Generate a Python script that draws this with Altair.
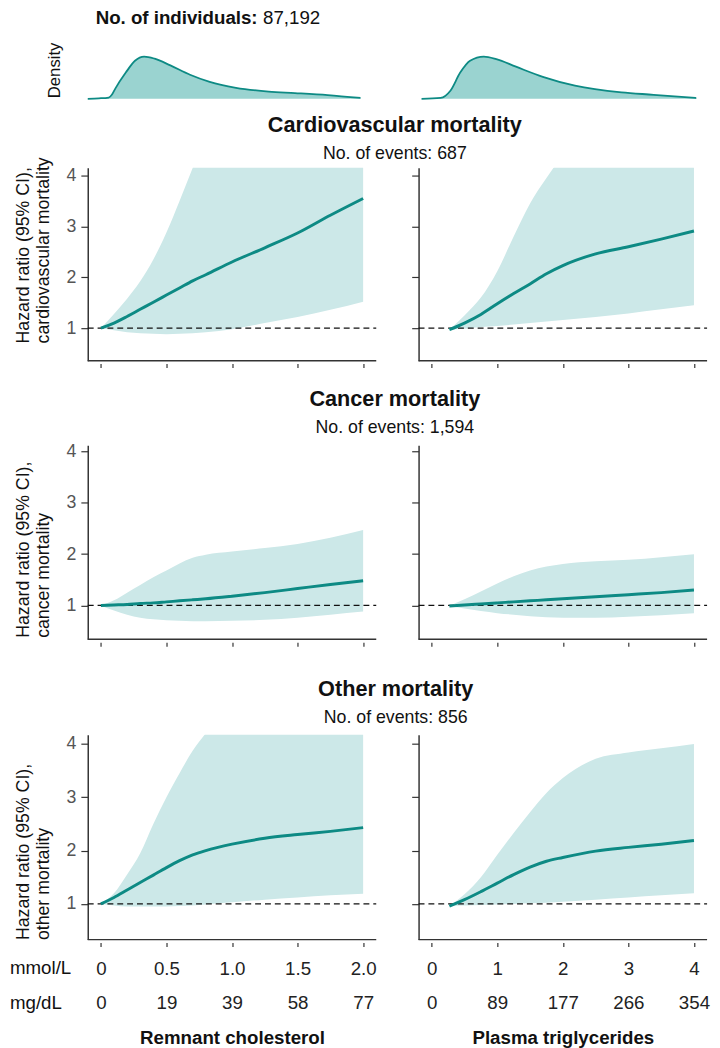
import altair as alt
import pandas as pd

FONT = "Liberation Sans, Arial, Helvetica, sans-serif"
TEAL = "#0d8a84"
BAND = "#cce8e8"
DFILL = "#9ad3d0"
AXC = "#333333"
W = 293

# ---------------- data ----------------
# x grids (mmol/L)
x_rc = [0, 0.1, 0.2, 0.3, 0.4, 0.5, 0.6, 0.7, 0.8, 1.0, 1.25, 1.5, 1.75, 2.0]
x_tg = [0.27, 0.5, 0.75, 1.0, 1.25, 1.5, 1.75, 2.0, 2.5, 3.0, 3.5, 4.0]

# Cardiovascular mortality
cv_rc_hr = [1.0, 1.1, 1.23, 1.37, 1.51, 1.65, 1.79, 1.93, 2.05, 2.3, 2.58, 2.87, 3.22, 3.55]
cv_rc_lo = [1.0, 0.96, 0.92, 0.9, 0.89, 0.88, 0.89, 0.9, 0.92, 0.98, 1.1, 1.22, 1.36, 1.52]
cv_rc_hi = [1.0, 1.28, 1.58, 1.92, 2.35, 2.88, 3.5, 4.15, 4.8, 5.5, 6.0, 6.5, 7.0, 7.5]
cv_tg_hr = [0.97, 1.1, 1.27, 1.48, 1.68, 1.87, 2.07, 2.23, 2.46, 2.6, 2.75, 2.91]
cv_tg_lo = [0.97, 0.99, 1.02, 1.04, 1.07, 1.1, 1.13, 1.16, 1.22, 1.29, 1.37, 1.45]
cv_tg_hi = [0.97, 1.25, 1.6, 2.12, 2.8, 3.45, 3.95, 4.4, 5.0, 5.5, 6.0, 6.5]

# Cancer mortality
ca_rc_hr = [1.0, 1.01, 1.02, 1.04, 1.05, 1.07, 1.09, 1.11, 1.13, 1.18, 1.25, 1.33, 1.41, 1.48]
ca_rc_lo = [1.0, 0.9, 0.82, 0.76, 0.73, 0.71, 0.7, 0.69, 0.69, 0.7, 0.72, 0.76, 0.82, 0.88]
ca_rc_hi = [1.0, 1.1, 1.25, 1.4, 1.55, 1.68, 1.82, 1.93, 1.99, 2.05, 2.12, 2.2, 2.32, 2.47]
ca_tg_hr = [0.99, 1.01, 1.03, 1.05, 1.07, 1.09, 1.11, 1.13, 1.17, 1.21, 1.25, 1.3]
ca_tg_lo = [0.99, 0.94, 0.89, 0.85, 0.82, 0.79, 0.77, 0.76, 0.76, 0.78, 0.81, 0.85]
ca_tg_hi = [0.99, 1.12, 1.27, 1.43, 1.57, 1.68, 1.76, 1.81, 1.86, 1.89, 1.94, 2.0]

# Other mortality
ot_rc_hr = [1.0, 1.12, 1.26, 1.4, 1.54, 1.68, 1.81, 1.92, 2.0, 2.12, 2.23, 2.3, 2.36, 2.43]
ot_rc_lo = [1.0, 0.97, 0.95, 0.95, 0.95, 0.95, 0.96, 0.97, 0.99, 1.03, 1.08, 1.12, 1.16, 1.19]
ot_rc_hi = [1.0, 1.2, 1.55, 1.95, 2.5, 3.0, 3.45, 3.87, 4.2, 4.8, 5.3, 5.7, 6.0, 6.3]
ot_tg_hr = [0.96, 1.08, 1.23, 1.39, 1.55, 1.69, 1.8, 1.87, 1.99, 2.06, 2.12, 2.19]
ot_tg_lo = [0.96, 0.97, 0.98, 0.99, 1.0, 1.01, 1.02, 1.04, 1.08, 1.12, 1.16, 1.2]
ot_tg_hi = [0.96, 1.18, 1.5, 1.92, 2.33, 2.72, 3.08, 3.36, 3.72, 3.84, 3.92, 4.0]

# Density curves (relative height)
dens_rc_x = [-0.1, -0.015, 0.06, 0.085, 0.11, 0.19, 0.26, 0.33, 0.41, 0.53, 0.68, 0.83, 1.03, 1.28, 1.48, 1.73, 1.98]
dens_rc_y = [0, 0.01, 0.03, 0.1, 0.24, 0.62, 0.9, 1.0, 0.95, 0.79, 0.57, 0.4, 0.26, 0.17, 0.136, 0.088, 0.02]
dens_tg_x = [-0.2, 0.09, 0.24, 0.39, 0.54, 0.75, 0.94, 1.24, 1.65, 2.14, 2.85, 3.34, 3.99]
dens_tg_y = [0, 0.02, 0.19, 0.62, 0.9, 1.0, 0.94, 0.76, 0.52, 0.31, 0.15, 0.095, 0.017]

# Tick labels
rc_ticks = [0, 0.5, 1.0, 1.5, 2.0]
rc_mmol = ["0", "0.5", "1.0", "1.5", "2.0"]
rc_mgdl = ["0", "19", "39", "58", "77"]
tg_ticks = [0, 1, 2, 3, 4]
tg_mmol = ["0", "1", "2", "3", "4"]
tg_mgdl = ["0", "89", "177", "266", "354"]
unit_labels = ["mmol/L", "mg/dL"]

XL = [-0.1, 2.1]
XR = [-0.2, 4.2]
LH = 35
LP = 13


def label_expr(ticks, l1, l2):
    parts = [f"abs(datum.value - {t}) < 1e-6 ? ['{a}', '{b}']" for t, a, b in zip(ticks, l1, l2)]
    return " : ".join(parts) + " : ''"


def hr_panel(xs, hr, lo, hi, xdom, ydom, height, ticks, side, bottom=False,
             ytitle=None, ytitle_y=0, xtitle=None, expr=None, gext=0):
    df = pd.DataFrame({"x": xs, "hr": hr, "lo": lo, "hi": hi})
    xsc = alt.Scale(domain=xdom, nice=False, zero=False)
    ysc = alt.Scale(domain=ydom, nice=False, zero=False)
    if bottom:
        xax = alt.Axis(values=ticks, domain=False, offset=3, tickSize=4, tickColor=AXC, tickWidth=1.2,
                       labelExpr=expr, labelFontSize=19, labelColor="#222", labelFont=FONT,
                       labelPadding=LP, labelLineHeight=LH, labelFlush=False, labelOverlap=False,
                       labelAngle=0, title=xtitle, titleFont=FONT, titleFontSize=19,
                       titleFontWeight="bold", titleColor="#111", titlePadding=17, grid=False)
    else:
        xax = alt.Axis(values=ticks, domain=False, offset=3, tickSize=4, tickColor=AXC, tickWidth=1.2,
                       labels=False, title=None, minExtent=gext, grid=False)
    if side == "left":
        yax = alt.Axis(values=[1, 2, 3, 4], domainColor=AXC, domainWidth=1.5, tickColor=AXC,
                       tickWidth=1.2, tickSize=7, labelFontSize=18, labelColor="#555", labelFont=FONT,
                       labelPadding=5, title=ytitle, titleFont=FONT, titleFontSize=18,
                       titleFontWeight="normal", titleColor="#111", titleAngle=270, titleAlign="left",
                       titleBaseline="bottom", titleX=-56, titleY=ytitle_y, titleLineHeight=20,
                       minExtent=80, grid=False)
    else:
        yax = alt.Axis(values=[1, 2, 3, 4], domainColor=AXC, domainWidth=1.5, tickColor=AXC,
                       tickWidth=1.2, tickSize=7, labels=False, title=None, minExtent=7, grid=False)

    def X(f):
        return alt.X(f, scale=xsc, axis=xax)

    def Y(f):
        return alt.Y(f, scale=ysc, axis=yax)

    base = alt.Chart(df)
    band = base.mark_area(color=BAND, clip=True, interpolate="monotone").encode(
        x=X("x:Q"), y=Y("lo:Q"), y2="hi:Q")
    refdf = pd.DataFrame({"x0": [xdom[0]], "x1": [xdom[1]], "y": [1.0]})
    ref = alt.Chart(refdf).mark_rule(color="#111", strokeDash=[6, 4], strokeWidth=1.3).encode(
        x=X("x0:Q"), x2="x1:Q", y=Y("y:Q"))
    line = base.mark_line(color=TEAL, strokeWidth=3, clip=True, interpolate="monotone").encode(
        x=X("x:Q"), y=Y("hr:Q"))
    botdf = pd.DataFrame({"x0": [xdom[0]], "x1": [xdom[1]], "y": [ydom[0]]})
    bot = alt.Chart(botdf).mark_rule(color=AXC, strokeWidth=1.5).encode(
        x=X("x0:Q"), x2="x1:Q", y=Y("y:Q"))
    layers = [band, ref, line, bot]
    if bottom and side == "left":
        for i, u in enumerate(unit_labels):
            t = alt.Chart(pd.DataFrame({"u": [u]})).mark_text(
                align="left", baseline="alphabetic", fontSize=19, font=FONT, color="#111"
            ).encode(x=alt.value(-79), y=alt.value(height + 22 + LP + LH * i), text="u:N")
            layers.append(t)
    return alt.layer(*layers).properties(width=W, height=height)


def dens_panel(xs, ys, xdom, side, g0):
    df = pd.DataFrame({"x": xs, "d": ys})
    xax = alt.Axis(domain=False, ticks=False, labels=False, grid=False, title=None, minExtent=g0)
    if side == "left":
        yax = alt.Axis(title="Density", labels=False, ticks=False, domain=False, grid=False,
                       minExtent=80, titleX=-25, titleY=47, titleAngle=270, titleAlign="left",
                       titleBaseline="bottom", titleFontSize=17, titleFontWeight="normal",
                       titleFont=FONT, titleColor="#111")
    else:
        yax = None
    area = alt.Chart(df).mark_area(
        color=DFILL, opacity=1, interpolate="monotone",
        line={"color": TEAL, "strokeWidth": 1.8}
    ).encode(
        x=alt.X("x:Q", scale=alt.Scale(domain=xdom, nice=False, zero=False), axis=xax),
        y=alt.Y("d:Q", scale=alt.Scale(domain=[0, 1.12], nice=False), axis=yax),
    )
    layers = [area]
    if side == "left":
        t1 = alt.Chart(pd.DataFrame({"t": ["No. of individuals:"]})).mark_text(
            align="left", baseline="alphabetic", fontSize=19, font=FONT, fontWeight="bold", color="#111"
        ).encode(x=alt.value(8), y=alt.value(-28), text="t:N")
        t2 = alt.Chart(pd.DataFrame({"t": ["87,192"]})).mark_text(
            align="left", baseline="alphabetic", fontSize=19, font=FONT, color="#111"
        ).encode(x=alt.value(178), y=alt.value(-28), text="t:N")
        layers += [t1, t2]
    return alt.layer(*layers).properties(width=W, height=48)


def row_title(t, s, off):
    return alt.TitleParams(text=t, subtitle=s, anchor="middle", fontSize=22, fontWeight="bold",
                           font=FONT, color="#111", subtitleFont=FONT, subtitleFontSize=18,
                           subtitleColor="#111", subtitlePadding=8, offset=off, dx=37)


G0 = 15
dens_row = alt.hconcat(
    dens_panel(dens_rc_x, dens_rc_y, XL, "left", G0),
    dens_panel(dens_tg_x, dens_tg_y, XR, "right", G0),
    spacing=42,
)

row1 = alt.hconcat(
    hr_panel(x_rc, cv_rc_hr, cv_rc_lo, cv_rc_hi, XL, [0.36, 4.155], 196, rc_ticks, "left",
             ytitle=["Hazard ratio (95% CI),", "cardiovascular mortality"], ytitle_y=178, gext=25),
    hr_panel(x_tg, cv_tg_hr, cv_tg_lo, cv_tg_hi, XR, [0.36, 4.155], 196, tg_ticks, "right", gext=25),
    spacing=34,
).properties(title=row_title("Cardiovascular mortality", "No. of events: 687", -7))

row2 = alt.hconcat(
    hr_panel(x_rc, ca_rc_hr, ca_rc_lo, ca_rc_hi, XL, [0.34, 4.12], 197, rc_ticks, "left",
             ytitle=["Hazard ratio (95% CI),", "cancer mortality"], ytitle_y=195, gext=37),
    hr_panel(x_tg, ca_tg_hr, ca_tg_lo, ca_tg_hi, XR, [0.34, 4.12], 197, tg_ticks, "right", gext=37),
    spacing=34,
).properties(title=row_title("Cancer mortality", "No. of events: 1,594", 5))

row3 = alt.hconcat(
    hr_panel(x_rc, ot_rc_hr, ot_rc_lo, ot_rc_hi, XL, [0.33, 4.17], 208, rc_ticks, "left", bottom=True,
             ytitle=["Hazard ratio (95% CI),", "other mortality"], ytitle_y=208,
             xtitle="Remnant cholesterol", expr=label_expr(rc_ticks, rc_mmol, rc_mgdl)),
    hr_panel(x_tg, ot_tg_hr, ot_tg_lo, ot_tg_hi, XR, [0.33, 4.17], 208, tg_ticks, "right", bottom=True,
             xtitle="Plasma triglycerides", expr=label_expr(tg_ticks, tg_mmol, tg_mgdl)),
    spacing=34,
).properties(title=row_title("Other mortality", "No. of events: 856", 7))

chart = alt.vconcat(dens_row, row1, row2, row3, spacing=0).properties(
    padding={"left": 1, "top": -7, "right": 2, "bottom": 0},
    background="white",
).configure(font=FONT).configure_view(stroke=None)

chart.save("out.html", embed_options={"renderer": "svg", "actions": False})
